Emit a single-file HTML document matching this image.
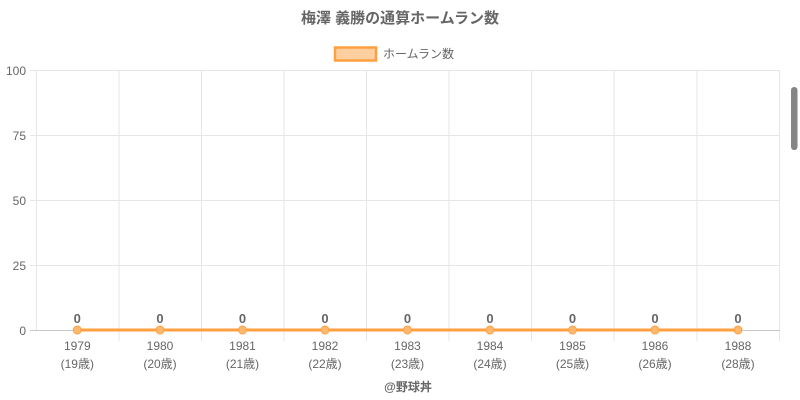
<!DOCTYPE html>
<html><head><meta charset="utf-8"><style>
html,body{margin:0;padding:0;background:#fff;width:800px;height:400px;overflow:hidden}
svg{display:block}
text{font-family:"Liberation Sans","Noto Sans CJK JP",sans-serif}
</style></head><body>
<svg width="800" height="400" viewBox="0 0 800 400" xmlns="http://www.w3.org/2000/svg">
<text x="400" y="23" text-anchor="middle" font-size="15" font-weight="bold" fill="#666">梅澤 義勝の通算ホームラン数</text>
<rect x="335" y="47.5" width="41" height="13" fill="rgba(255,159,64,0.5)" stroke="#ff9f40" stroke-width="2.5"/>
<text x="383" y="58" font-size="12" fill="#666">ホームラン数</text>
<g stroke="#e6e6e6" stroke-width="1">
<line x1="30" y1="70.5" x2="780" y2="70.5"/>
<line x1="30" y1="135.5" x2="780" y2="135.5"/>
<line x1="30" y1="200.5" x2="780" y2="200.5"/>
<line x1="30" y1="265.5" x2="780" y2="265.5"/>
<line x1="36.5" y1="70" x2="36.5" y2="330"/>
<line x1="119" y1="70" x2="119" y2="341"/>
<line x1="201.5" y1="70" x2="201.5" y2="341"/>
<line x1="284" y1="70" x2="284" y2="341"/>
<line x1="366.5" y1="70" x2="366.5" y2="341"/>
<line x1="449" y1="70" x2="449" y2="341"/>
<line x1="531.5" y1="70" x2="531.5" y2="341"/>
<line x1="614" y1="70" x2="614" y2="341"/>
<line x1="697" y1="70" x2="697" y2="341"/>
<line x1="779.5" y1="70" x2="779.5" y2="341"/>
</g>
<line x1="30" y1="330.5" x2="780" y2="330.5" stroke="#c8c8c8" stroke-width="1"/>
<g font-size="12" fill="#666" text-anchor="end">
<text x="26" y="75">100</text>
<text x="26" y="140">75</text>
<text x="26" y="205">50</text>
<text x="26" y="270">25</text>
<text x="26" y="335">0</text>
</g>
<line x1="77" y1="330" x2="738" y2="330" stroke="#ff9f40" stroke-width="3"/>
<g fill="#ffb870" stroke="#ff9f40" stroke-width="1">
<circle cx="77.3" cy="330" r="4"/><circle cx="160" cy="330" r="4"/><circle cx="242.5" cy="330" r="4"/>
<circle cx="325" cy="330" r="4"/><circle cx="407.5" cy="330" r="4"/><circle cx="490" cy="330" r="4"/>
<circle cx="572.5" cy="330" r="4"/><circle cx="655" cy="330" r="4"/><circle cx="738" cy="330" r="4"/>
</g>
<g font-size="13" font-weight="bold" fill="#666" text-anchor="middle">
<text x="77.3" y="323">0</text><text x="160" y="323">0</text><text x="242.5" y="323">0</text>
<text x="325" y="323">0</text><text x="407.5" y="323">0</text><text x="490" y="323">0</text>
<text x="572.5" y="323">0</text><text x="655" y="323">0</text><text x="738" y="323">0</text>
</g>
<g font-size="12" fill="#666" text-anchor="middle">
<text x="77.3" y="350">1979</text><text x="77.3" y="368">(19歳)</text>
<text x="160" y="350">1980</text><text x="160" y="368">(20歳)</text>
<text x="242.5" y="350">1981</text><text x="242.5" y="368">(21歳)</text>
<text x="325" y="350">1982</text><text x="325" y="368">(22歳)</text>
<text x="407.5" y="350">1983</text><text x="407.5" y="368">(23歳)</text>
<text x="490" y="350">1984</text><text x="490" y="368">(24歳)</text>
<text x="572.5" y="350">1985</text><text x="572.5" y="368">(25歳)</text>
<text x="655" y="350">1986</text><text x="655" y="368">(26歳)</text>
<text x="738" y="350">1988</text><text x="738" y="368">(28歳)</text>
</g>
<text x="408" y="391" text-anchor="middle" font-size="12" font-weight="bold" fill="#666">@野球丼</text>
<rect x="791" y="87" width="6.5" height="63" rx="3.2" fill="#858585"/>
</svg>
</body></html>
